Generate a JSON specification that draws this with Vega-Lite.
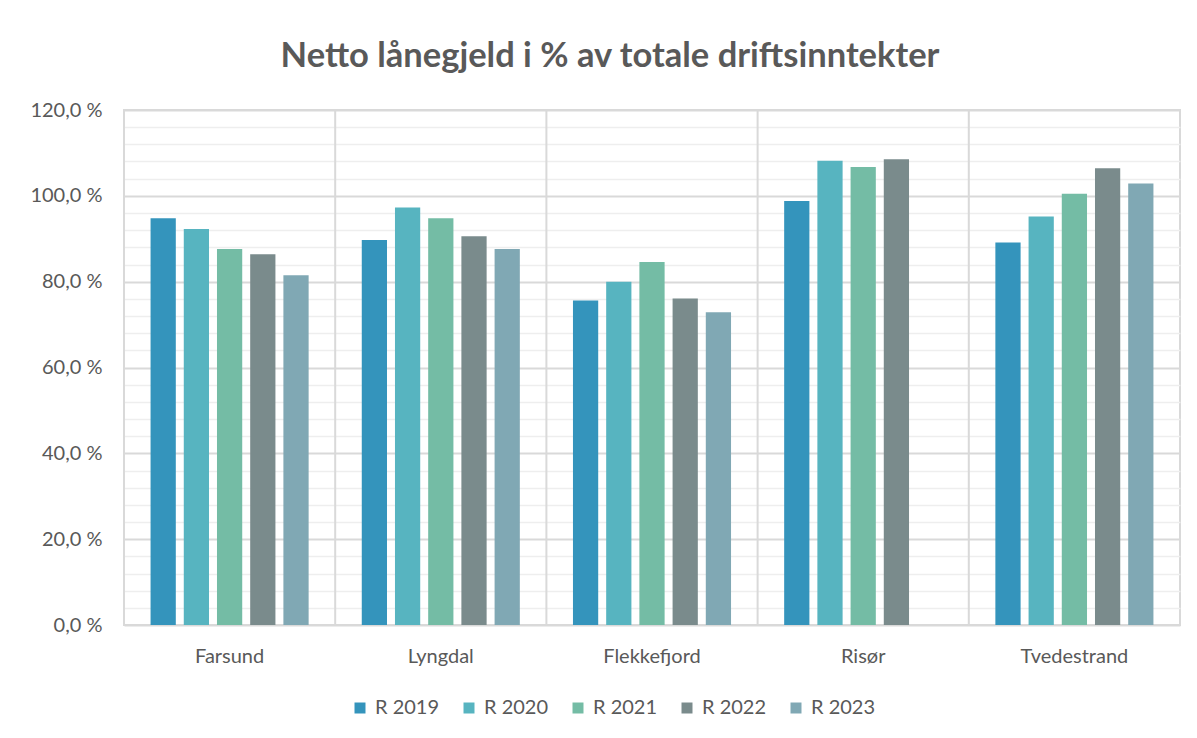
{
  "$schema": "https://vega.github.io/schema/vega-lite/v6.json",
  "autosize": {"type": "none"},
  "width": 1056,
  "height": 515,
  "padding": {"left": 124, "top": 110, "right": 17, "bottom": 113},
  "background": "white",
  "config": {
    "font": "Lato",
    "view": {"stroke": "#d9d9d9", "strokeWidth": 2}
  },
  "title": {
    "text": "Netto lånegjeld i % av totale driftsinntekter",
    "fontSize": 34.5,
    "fontWeight": "bold",
    "color": "#595959",
    "anchor": "middle",
    "dx": -42,
    "offset": 26
  },
  "data": {
    "values": [
      {"kommune": "Farsund", "aar": "R 2019", "verdi": 94.8},
      {"kommune": "Farsund", "aar": "R 2020", "verdi": 92.3},
      {"kommune": "Farsund", "aar": "R 2021", "verdi": 87.6},
      {"kommune": "Farsund", "aar": "R 2022", "verdi": 86.4},
      {"kommune": "Farsund", "aar": "R 2023", "verdi": 81.5},
      {"kommune": "Lyngdal", "aar": "R 2019", "verdi": 89.7},
      {"kommune": "Lyngdal", "aar": "R 2020", "verdi": 97.3},
      {"kommune": "Lyngdal", "aar": "R 2021", "verdi": 94.8},
      {"kommune": "Lyngdal", "aar": "R 2022", "verdi": 90.6},
      {"kommune": "Lyngdal", "aar": "R 2023", "verdi": 87.6},
      {"kommune": "Flekkefjord", "aar": "R 2019", "verdi": 75.6},
      {"kommune": "Flekkefjord", "aar": "R 2020", "verdi": 80.0},
      {"kommune": "Flekkefjord", "aar": "R 2021", "verdi": 84.6},
      {"kommune": "Flekkefjord", "aar": "R 2022", "verdi": 76.1},
      {"kommune": "Flekkefjord", "aar": "R 2023", "verdi": 72.9},
      {"kommune": "Risør", "aar": "R 2019", "verdi": 98.8},
      {"kommune": "Risør", "aar": "R 2020", "verdi": 108.2},
      {"kommune": "Risør", "aar": "R 2021", "verdi": 106.7},
      {"kommune": "Risør", "aar": "R 2022", "verdi": 108.5},
      {"kommune": "Tvedestrand", "aar": "R 2019", "verdi": 89.1},
      {"kommune": "Tvedestrand", "aar": "R 2020", "verdi": 95.2},
      {"kommune": "Tvedestrand", "aar": "R 2021", "verdi": 100.5},
      {"kommune": "Tvedestrand", "aar": "R 2022", "verdi": 106.4},
      {"kommune": "Tvedestrand", "aar": "R 2023", "verdi": 102.9}
    ]
  },
  "layer": [
    {
      "mark": {"type": "bar"},
      "encoding": {
        "x": {
          "field": "kommune",
          "type": "nominal",
          "scale": {
            "domain": ["Farsund", "Lyngdal", "Flekkefjord", "Risør", "Tvedestrand"],
            "paddingInner": 0,
            "paddingOuter": 0
          },
          "axis": {
            "title": null,
            "labelAngle": 0,
            "labelFontSize": 20,
            "labelColor": "#595959",
            "labelPadding": 21,
            "ticks": false,
            "domain": false,
            "grid": false
          }
        },
        "xOffset": {
          "field": "aar",
          "type": "nominal",
          "scale": {"paddingInner": 0.24, "paddingOuter": 0.8}
        },
        "y": {
          "field": "verdi",
          "type": "quantitative",
          "scale": {"domain": [0, 120], "nice": false},
          "axis": {
            "title": null,
            "values": [0, 4, 8, 12, 16, 20, 24, 28, 32, 36, 40, 44, 48, 52, 56, 60, 64, 68, 72, 76, 80, 84, 88, 92, 96, 100, 104, 108, 112, 116, 120],
            "labelExpr": "datum.value % 20 === 0 ? replace(format(datum.value, '.1f'), '.', ',') + ' %' : ''",
            "labelOverlap": false,
            "labelFontSize": 20,
            "labelColor": "#595959",
            "labelPadding": 22,
            "ticks": false,
            "domain": false,
            "gridColor": {"condition": {"test": "datum.value % 20 === 0", "value": "#d9d9d9"}, "value": "#eeeeee"},
            "gridWidth": {"condition": {"test": "datum.value % 20 === 0", "value": 2}, "value": 1.5}
          }
        },
        "color": {
          "field": "aar",
          "type": "nominal",
          "scale": {
            "domain": ["R 2019", "R 2020", "R 2021", "R 2022", "R 2023"],
            "range": ["#3494bc", "#57b4c0", "#74bca5", "#7a8b8c", "#80a8b4"]
          },
          "legend": {
            "title": null,
            "orient": "none",
            "direction": "horizontal",
            "legendX": 226,
            "legendY": 588,
            "symbolType": "square",
            "symbolSize": 121,
            "symbolStrokeWidth": 0,
            "labelFontSize": 20,
            "labelColor": "#595959",
            "labelOffset": 5,
            "columnPadding": 19
          }
        }
      }
    },
    {
      "transform": [{"aggregate": [{"op": "count", "as": "n"}], "groupby": ["kommune"]}],
      "mark": {"type": "rule", "color": "#d9d9d9", "strokeWidth": 2},
      "encoding": {
        "x": {"field": "kommune", "type": "nominal", "bandPosition": 0}
      }
    }
  ]
}
